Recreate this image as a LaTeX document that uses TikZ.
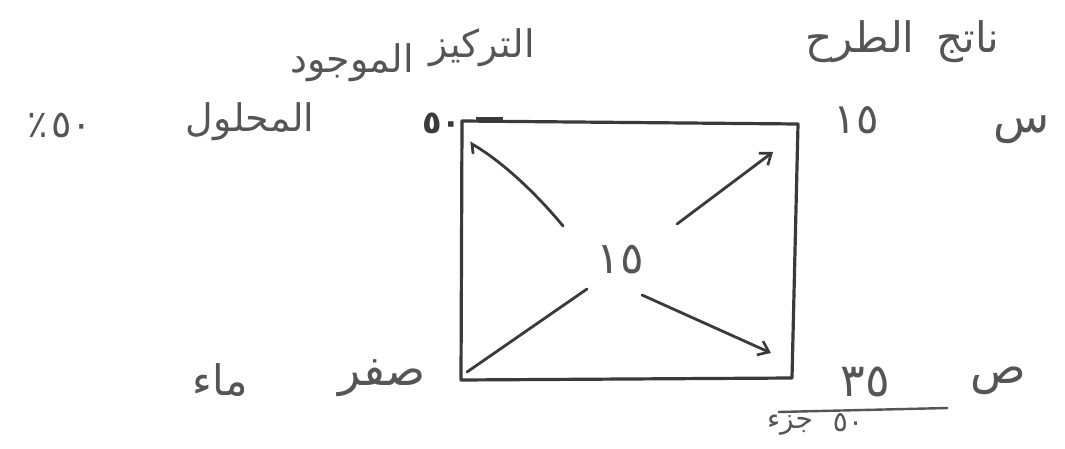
\documentclass[tikz,border=0pt]{standalone}
\usepackage{fontspec}
\newfontfamily\arabicfont[Script=Arabic]{DejaVu Sans}
\TeXXeTstate=1
\usetikzlibrary{arrows.meta}
\definecolor{ink}{HTML}{3A3A3A}
\definecolor{pen}{HTML}{555555}
\newcommand{\fsz}[1]{\arabicfont\fontsize{#1}{#1}\selectfont}
\tikzset{
  lbl/.style={inner sep=0pt, text=pen, font=\fsz{38}},
  boxline/.style={draw=ink, line width=3.2pt, line join=round},
  arr/.style={draw=ink, line width=2.8pt, line cap=round, -{Straight Barb[length=10pt,width=15pt,line width=2.6pt]}},
  plain/.style={draw=ink, line width=2.8pt, line cap=round},
}
\begin{document}
\begin{tikzpicture}[x=1pt,y=-1pt]
\useasboundingbox (0,0) rectangle (1065,449);
\fill[white] (0,0) rectangle (1065,449);
% box corners
\coordinate (TL) at (462,121);
\coordinate (TR) at (798,124);
\coordinate (BR) at (792,378);
\coordinate (BL) at (461,380);
\draw[boxline] (TL) -- (TR) -- (BR) -- (BL) -- cycle;
\draw[ink, line width=4pt] (476,119) -- (503,119);
% arrow end points
\coordinate (a1) at (563,226);
\coordinate (a2) at (472,144);
\coordinate (a2t) at (473,153);
\coordinate (b1) at (467,372);
\coordinate (b2) at (587,289);
\coordinate (c1) at (677,224);
\coordinate (c2) at (773,152);
\coordinate (d1) at (642,295);
\coordinate (d2) at (771,353);
\draw[plain] (a1) .. controls (540,198) and (505,163) .. (a2) -- (a2t);
\draw[plain] (b1) -- (b2);
\draw[arr] (c1) -- (c2);
\draw[arr] (d1) -- (d2);
% texts
\node[lbl] (concA) at (482,48) {\beginR التركيز\endR};
\node[lbl] (concB) at (352,63) {\beginR الموجود\endR};
\node[lbl, font=\fsz{42}] (diffA) at (968,42) {\beginR ناتج\endR};
\node[lbl, font=\fsz{42}] (diffB) at (860,42) {\beginR الطرح\endR};
\node[lbl] (sol) at (250,122) {\beginR المحلول\endR};
\node[lbl] (pct) at (60,125) {٪\kern3pt ٥٠};
\node[lbl, text=ink, font=\fsz{32}\bfseries] (fifty) at (442,123) {٥٠};
\node[lbl, font=\fsz{42}] (r15) at (856,120) {١٥};
\node[lbl, font=\fsz{46}] (sin) at (1022,130) {\beginR س\endR};
\node[lbl, font=\fsz{44}] (c15) at (620,260) {١٥};
\node[lbl, font=\fsz{46}] (zero) at (382,378) {\beginR صفر\endR};
\node[lbl, font=\fsz{42}] (water) at (220,380) {\beginR ماء\endR};
\node[lbl, font=\fsz{46}] (r35) at (865,382) {٣٥};
\node[lbl, font=\fsz{46}] (sad) at (998,381) {\beginR ص\endR};
\coordinate (f1) at (778,412);
\coordinate (f2) at (948,408);
\draw[draw=pen, line width=2.4pt] (f1) -- (f2);
\node[lbl, font=\fsz{28}] (part) at (790,425) {\beginR جزء\endR};
\node[lbl, font=\fsz{28}] (p50) at (848,423) {٥٠};
\end{tikzpicture}
\end{document}
